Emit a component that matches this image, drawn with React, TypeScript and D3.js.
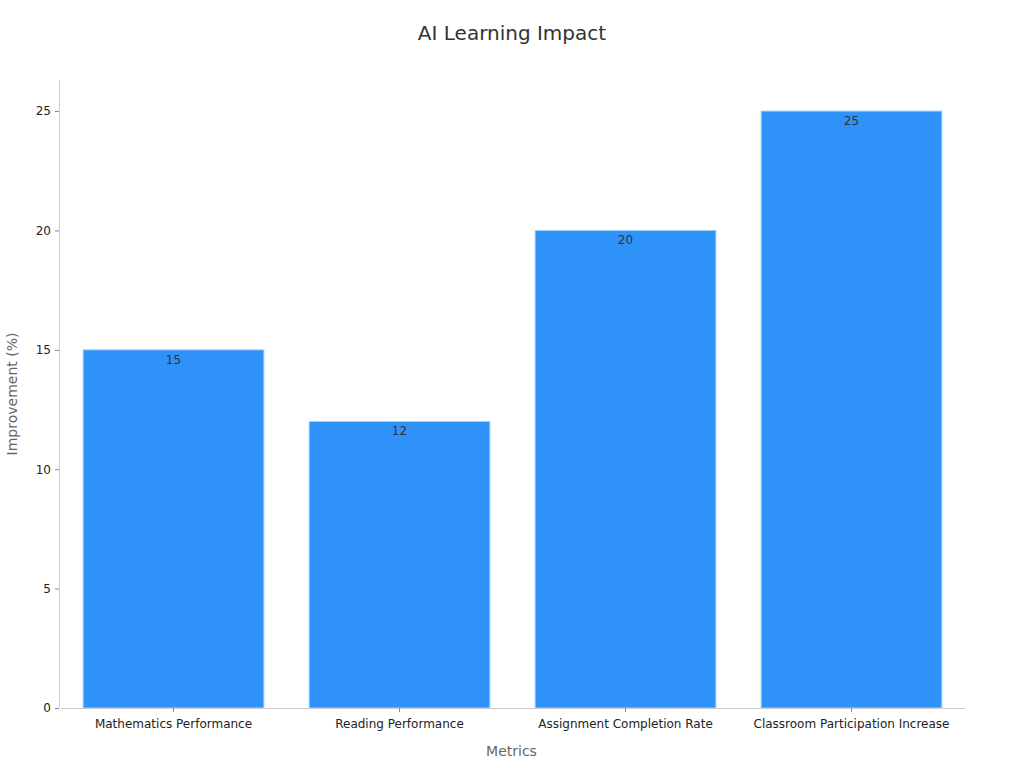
import * as d3 from "d3";
import { useEffect, useRef } from "react";

const WIDTH = 1024;
const HEIGHT = 768;
const MARGIN = { top: 80, right: 60, bottom: 60, left: 59 };
const FONT = "DejaVu Sans, sans-serif";

const METRICS = [
  "Mathematics Performance",
  "Reading Performance",
  "Assignment Completion Rate",
  "Classroom Participation Increase",
];
const IMPROVEMENT = [15, 12, 20, 25];
const Y_TICKS = [0, 5, 10, 15, 20, 25];

export default function App() {
  const svgRef = useRef<SVGSVGElement>(null);

  useEffect(() => {
    if (!svgRef.current) return;
    const svg = d3.select(svgRef.current);
    svg.selectAll("*").remove();

    const data = METRICS.map((m, i) => ({ metric: m, value: IMPROVEMENT[i] }));

    const x = d3
      .scaleBand()
      .domain(METRICS)
      .range([MARGIN.left + 1.5, WIDTH - MARGIN.right + 0.5])
      .paddingInner(0.2)
      .paddingOuter(0.1);

    const maxV = d3.max(IMPROVEMENT)!;
    const y = d3
      .scaleLinear()
      .domain([0, maxV * 1.052])
      .range([HEIGHT - MARGIN.bottom, MARGIN.top]);

    // titulo
    svg
      .append("text")
      .attr("x", WIDTH / 2)
      .attr("y", 40)
      .attr("text-anchor", "middle")
      .attr("font-family", FONT)
      .attr("font-size", 20)
      .attr("fill", "#333")
      .text("AI Learning Impact");

    // barras
    svg
      .append("g")
      .selectAll("rect")
      .data(data)
      .enter()
      .append("rect")
      .attr("x", (d) => x(d.metric)!)
      .attr("y", (d) => y(d.value))
      .attr("width", x.bandwidth())
      .attr("height", (d) => y(0) - y(d.value))
      .attr("fill", "#2f92f8")
      .attr("stroke", "#a8d4fb")
      .attr("stroke-width", 1);

    // etiquetas de valor
    svg
      .append("g")
      .selectAll("text")
      .data(data)
      .enter()
      .append("text")
      .attr("x", (d) => x(d.metric)! + x.bandwidth() / 2)
      .attr("y", (d) => y(d.value) + 14)
      .attr("text-anchor", "middle")
      .attr("font-family", FONT)
      .attr("font-size", 12)
      .attr("fill", "#333")
      .text((d) => d.value);

    // Eje X
    const xAxis = svg
      .append("g")
      .attr("transform", `translate(0, ${HEIGHT - MARGIN.bottom})`)
      .call(d3.axisBottom(x).tickSize(4).tickSizeOuter(0));
    xAxis.select(".domain").attr("stroke", "#ccc");
    xAxis.selectAll(".tick line").attr("stroke", "#888");
    xAxis
      .selectAll(".tick text")
      .attr("font-family", FONT)
      .attr("font-size", 12)
      .attr("fill", "#222")
      .attr("dy", "1.05em");

    // Eje Y
    const yAxis = svg
      .append("g")
      .attr("transform", `translate(${MARGIN.left}, 0)`)
      .call(d3.axisLeft(y).tickValues(Y_TICKS).tickSize(4).tickSizeOuter(0));
    yAxis.select(".domain").attr("stroke", "#ccc");
    yAxis.selectAll(".tick line").attr("stroke", "#888");
    yAxis
      .selectAll(".tick text")
      .attr("font-family", FONT)
      .attr("font-size", 12)
      .attr("fill", "#222")
      .attr("x", -8);

    // titulos de ejes
    svg
      .append("text")
      .attr("x", MARGIN.left + (WIDTH - MARGIN.left - MARGIN.right) / 2)
      .attr("y", 756)
      .attr("text-anchor", "middle")
      .attr("font-family", FONT)
      .attr("font-size", 14)
      .attr("fill", "#666")
      .text("Metrics");

    svg
      .append("text")
      .attr(
        "transform",
        `translate(17, ${MARGIN.top + (HEIGHT - MARGIN.top - MARGIN.bottom) / 2}) rotate(-90)`
      )
      .attr("text-anchor", "middle")
      .attr("font-family", FONT)
      .attr("font-size", 14)
      .attr("fill", "#666")
      .text("Improvement (%)");
  }, []);

  return (
    <svg
      ref={svgRef}
      width={WIDTH}
      height={HEIGHT}
      style={{ position: "absolute", left: 0, top: 0, background: "#fff" }}
    ></svg>
  );
}
